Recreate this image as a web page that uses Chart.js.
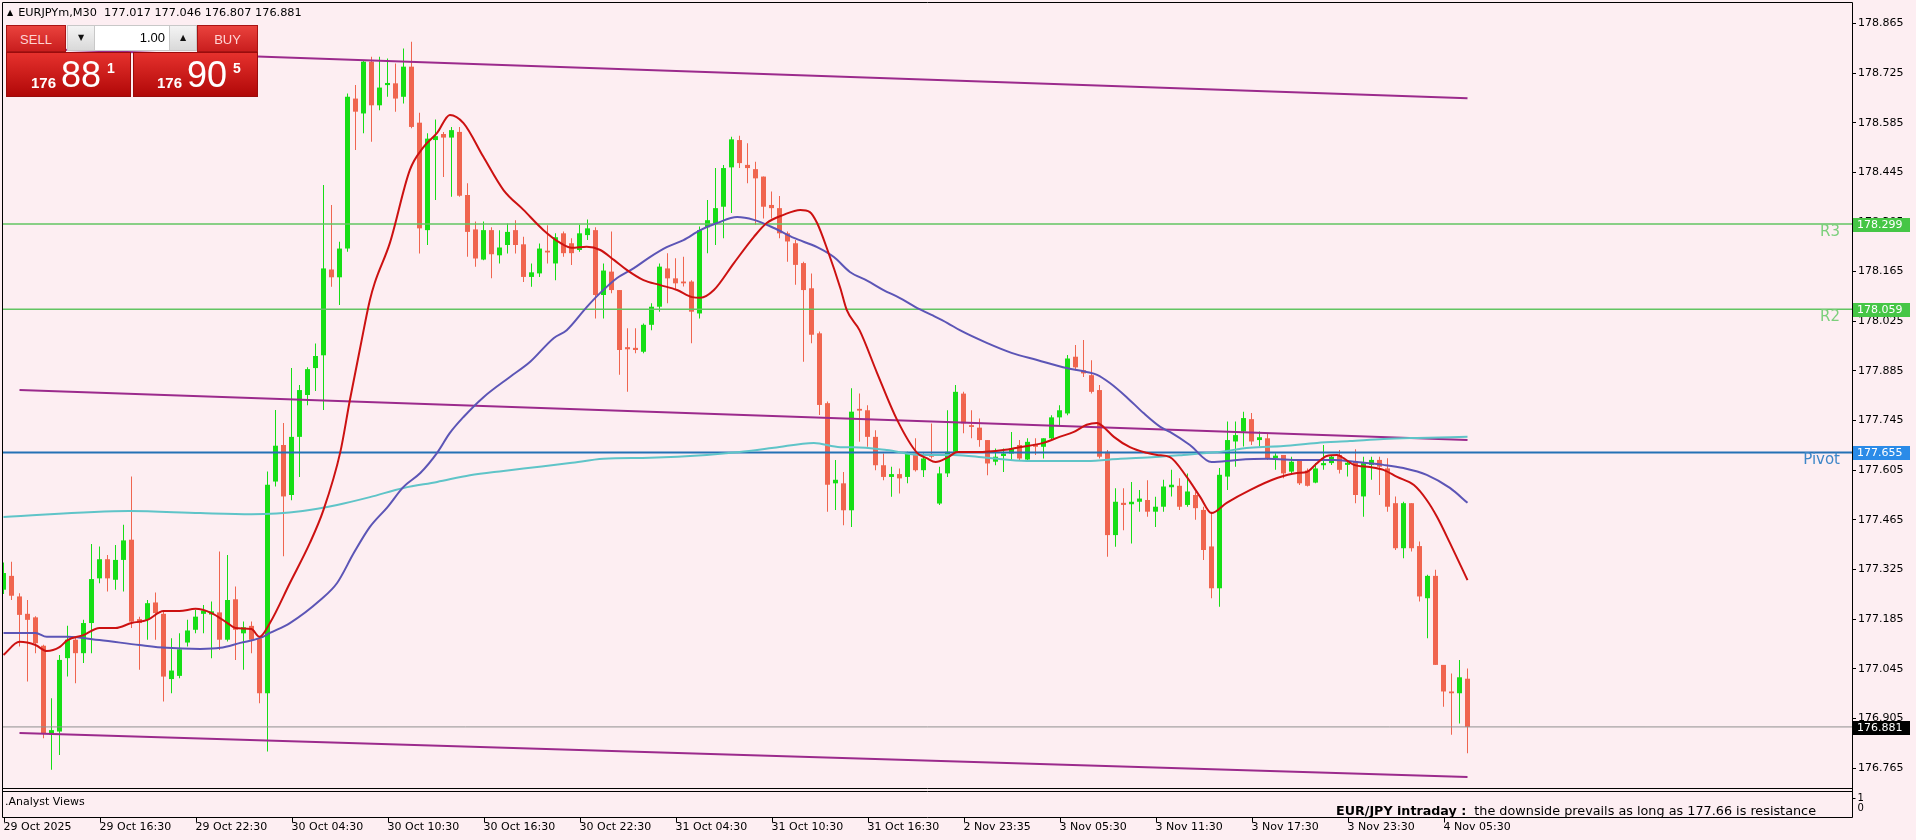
<!DOCTYPE html>
<html><head><meta charset="utf-8">
<script src="https://cdn.jsdelivr.net/npm/chart.js@4.4.1/dist/chart.umd.min.js"></script>
<style>
html,body{margin:0;padding:0;background:#fdeef2;overflow:hidden;}
#wrap{position:relative;width:1916px;height:840px;}
canvas{position:absolute;left:0;top:0;}
.abs{position:absolute;box-sizing:border-box;white-space:pre;}
#hdr{left:7px;top:6px;font:11.3px 'DejaVu Sans';color:#000;line-height:13px;}
#hdr .tri{font-size:8px;vertical-align:1px;margin-right:5px;}
.btn{top:25px;height:27px;background:linear-gradient(#ea423d,#c91e1e);color:#ffd3d3;font:13px 'Liberation Sans';text-align:center;line-height:27px;border:1px solid #a81414;}
#sellBtn{left:6px;width:60px;}
#buyBtn{left:197px;width:61px;}
#spin{left:67px;top:25px;width:130px;height:26px;background:#fff;border:1px solid #c8c8c8;}
.arr{position:absolute;top:0;width:26px;height:24px;background:linear-gradient(#f4f4f4,#d9d9d9);font:8px 'DejaVu Sans';text-align:center;line-height:24px;color:#111;}
#dn{left:0;border-right:1px solid #c8c8c8;}
#up{right:0;border-left:1px solid #c8c8c8;}
#inp{position:absolute;right:31px;top:0;font:13px 'Liberation Sans';line-height:24px;color:#000;}
.px{top:52px;height:45px;background:linear-gradient(#e5312d,#b10808);border:1px solid #9a0c0c;color:#fff;font-family:'Liberation Sans';}
#sellPx{left:6px;width:125px;}
#buyPx{left:133px;width:125px;}
.px span{position:absolute;line-height:1;}
.px .s{font-size:15px;font-weight:bold;top:22px;}
.px .b{font-size:36px;top:4px;}
.px .u{font-size:14px;font-weight:bold;top:8px;}
</style></head>
<body>
<div id="wrap">
<canvas id="c" width="1916" height="840"></canvas>
<div id="hdr" class="abs"><span class="tri">▲</span><span id="hdrText"></span></div>
<div id="sellBtn" class="abs btn">SELL</div>
<div id="spin" class="abs"><div id="dn" class="arr">▼</div><div id="inp">1.00</div><div id="up" class="arr">▲</div></div>
<div id="buyBtn" class="abs btn">BUY</div>
<div id="sellPx" class="abs px"><span class="s" style="left:24px" id="sbig0"></span><span class="b" style="left:54px" id="sbig1"></span><span class="u" style="left:100px" id="sbig2"></span></div>
<div id="buyPx" class="abs px"><span class="s" style="left:23px" id="bbig0"></span><span class="b" style="left:53px" id="bbig1"></span><span class="u" style="left:99px" id="bbig2"></span></div>
</div>
<script>
// ---------------- data ----------------
const symbol = 'EURJPYm,M30';
const bid = 176.881, ask = 176.905;
const timeLabels = ['29 Oct 2025','29 Oct 16:30','29 Oct 22:30','30 Oct 04:30','30 Oct 10:30','30 Oct 16:30','30 Oct 22:30','31 Oct 04:30','31 Oct 10:30','31 Oct 16:30','2 Nov 23:35','3 Nov 05:30','3 Nov 11:30','3 Nov 17:30','3 Nov 23:30','4 Nov 05:30'];
const barsPerLabel = 12;
const yTicks = [176.765,176.905,177.045,177.185,177.325,177.465,177.605,177.745,177.885,178.025,178.165,178.305,178.445,178.585,178.725,178.865];

const open = [177.268,177.307,177.249,177.200,177.190,177.110,176.860,176.868,177.075,177.127,177.089,177.174,177.300,177.354,177.296,177.352,177.409,177.185,177.183,177.232,177.200,177.016,177.025,177.119,177.155,177.200,177.198,177.204,177.127,177.241,177.145,177.166,177.131,176.976,177.573,177.676,177.535,177.699,177.817,177.893,177.929,178.171,178.149,178.230,178.653,178.611,178.757,178.634,178.691,178.696,178.658,178.743,178.585,178.282,178.536,178.553,178.543,178.559,178.381,178.284,178.199,178.282,178.211,178.240,178.282,178.242,178.150,178.160,178.224,178.188,178.273,178.245,178.226,178.268,178.282,178.099,178.165,178.113,177.952,177.950,177.939,178.015,178.066,178.174,178.146,178.137,178.137,178.047,178.290,178.301,178.348,178.459,178.536,178.466,178.454,178.433,178.353,178.344,178.273,178.245,178.189,178.118,177.991,177.794,177.568,177.568,177.492,177.778,177.774,177.699,177.619,177.586,177.594,177.586,177.652,177.605,177.647,177.511,177.596,177.657,177.821,177.732,177.725,177.690,177.629,177.645,177.652,177.676,177.635,177.679,177.671,177.695,177.754,177.765,177.925,177.887,177.873,177.831,177.657,177.422,177.513,177.509,177.516,177.521,177.488,177.502,177.557,177.561,177.507,177.535,177.493,177.390,177.272,177.587,177.686,177.714,177.749,177.690,177.695,177.639,177.648,177.601,177.634,177.604,177.570,177.619,177.625,177.648,177.620,177.629,177.531,177.620,177.634,177.610,177.512,177.385,177.512,177.391,177.244,177.307,177.056,176.981,176.976,177.017];
const high = [177.345,177.347,177.258,177.239,177.193,177.113,176.962,177.084,177.166,177.136,177.183,177.397,177.390,177.366,177.394,177.451,177.587,177.192,177.239,177.260,177.206,177.131,177.145,177.183,177.211,177.225,177.235,177.376,177.366,177.277,177.178,177.178,177.136,177.601,177.775,177.738,177.893,177.845,177.895,177.962,178.409,178.353,178.249,178.667,178.691,178.761,178.771,178.771,178.766,178.752,178.794,178.813,178.613,178.555,178.594,178.559,178.573,178.573,178.414,178.306,178.306,178.290,178.282,178.301,178.310,178.263,178.188,178.244,178.296,178.273,178.278,178.259,178.297,178.312,178.290,178.188,178.278,178.113,178.005,178.005,178.019,178.076,178.188,178.217,178.203,178.207,178.141,178.292,178.367,178.457,178.466,178.545,178.548,178.527,178.475,178.433,178.391,178.378,178.278,178.254,178.193,178.160,177.996,177.799,177.634,177.600,177.836,177.821,177.788,177.718,177.652,177.615,177.610,177.657,177.695,177.652,177.737,177.615,177.774,177.845,177.826,177.774,177.751,177.690,177.666,177.666,177.713,177.690,177.695,177.695,177.695,177.760,177.788,177.930,177.958,177.972,177.915,177.845,177.662,177.554,177.554,177.572,177.549,177.577,177.530,177.578,177.606,177.582,177.596,177.545,177.502,177.488,177.611,177.742,177.742,177.770,177.766,177.714,177.709,177.653,177.648,177.643,177.634,177.610,177.625,177.676,177.648,177.662,177.634,177.664,177.643,177.643,177.643,177.639,177.531,177.516,177.512,177.404,177.310,177.324,177.056,177.032,177.070,177.046];
const low = [177.256,177.239,177.108,177.009,177.089,176.849,176.760,176.802,177.023,177.004,177.061,177.089,177.286,177.263,177.268,177.263,177.160,177.042,177.127,177.127,176.953,176.976,177.018,177.108,177.145,177.145,177.075,177.098,177.122,177.070,177.042,177.089,176.948,176.812,177.559,177.362,177.520,177.586,177.788,177.828,177.775,178.122,178.071,178.221,178.508,178.555,178.531,178.620,178.658,178.616,178.639,178.569,178.216,178.240,178.367,178.432,178.376,178.376,178.207,178.179,178.197,178.146,178.188,178.216,178.216,178.136,178.122,178.150,178.188,178.141,178.207,178.184,178.221,178.254,178.033,178.033,178.104,177.874,177.826,177.935,177.935,178.000,178.052,178.076,178.113,178.123,177.963,178.033,178.217,178.240,178.259,178.330,178.457,178.414,178.297,178.315,178.315,178.259,178.193,178.128,177.911,177.963,177.761,177.488,177.493,177.450,177.445,177.685,177.671,177.605,177.577,177.530,177.539,177.568,177.601,177.586,177.638,177.507,177.586,177.654,177.709,177.695,177.671,177.591,177.619,177.600,177.633,177.633,177.632,177.648,177.638,177.690,177.732,177.760,177.887,177.868,177.821,177.638,177.361,177.389,177.436,177.398,177.488,177.474,177.445,177.488,177.531,177.493,177.502,177.465,177.352,177.244,177.220,177.549,177.615,177.672,177.676,177.672,177.634,177.606,177.582,177.596,177.563,177.559,177.568,177.606,177.620,177.596,177.587,177.512,177.474,177.578,177.535,177.488,177.380,177.357,177.376,177.235,177.131,177.056,176.938,176.859,176.891,176.807];
const close = [177.315,177.251,177.197,177.183,177.117,176.863,176.872,177.070,177.127,177.089,177.174,177.298,177.354,177.300,177.352,177.407,177.178,177.174,177.230,177.202,177.023,177.040,177.100,177.153,177.192,177.209,177.207,177.127,177.239,177.155,177.162,177.127,176.976,177.564,177.674,177.531,177.699,177.831,177.890,177.927,178.174,178.149,178.230,178.658,178.616,178.757,178.634,178.684,178.697,178.653,178.743,178.573,178.287,178.540,178.547,178.543,178.564,178.379,178.277,178.202,178.282,178.214,178.233,178.277,178.240,178.150,178.163,178.230,178.219,178.262,178.217,178.217,178.273,178.287,178.099,178.168,178.113,177.944,177.946,177.944,178.015,178.066,178.179,178.146,178.132,178.132,178.052,178.282,178.310,178.344,178.457,178.538,178.471,178.457,178.428,178.348,178.344,178.273,178.250,178.184,178.113,177.987,177.789,177.564,177.578,177.492,177.770,177.773,177.699,177.619,177.586,177.594,177.582,177.652,177.605,177.638,177.643,177.596,177.657,177.826,177.737,177.727,177.690,177.624,177.643,177.652,177.666,177.638,177.685,177.671,177.695,177.754,177.774,177.920,177.895,177.878,177.826,177.643,177.422,177.516,177.507,177.516,177.525,177.488,177.502,177.559,177.564,177.502,177.545,177.498,177.380,177.272,177.592,177.690,177.704,177.752,177.686,177.698,177.639,177.646,177.596,177.629,177.568,177.561,177.610,177.625,177.643,177.606,177.626,177.535,177.625,177.634,177.615,177.502,177.385,177.512,177.385,177.249,177.307,177.056,176.981,176.976,177.021,176.881];

const maRed = [[0,177.084],[2,177.121],[4,177.112],[5.4,177.095],[7,177.106],[8,177.126],[10,177.140],[12,177.160],[14,177.160],[16,177.174],[18,177.183],[20,177.208],[22,177.208],[24,177.214],[26,177.202],[28,177.174],[29,177.160],[31,177.157],[32,177.135],[33.3,177.174],[35.8,177.287],[38.3,177.400],[40,177.493],[42.1,177.656],[43.3,177.803],[44.6,177.952],[45.8,178.085],[46.4,178.133],[48.3,178.246],[50.8,178.452],[52.5,178.516],[54.2,178.556],[55.8,178.607],[57.5,178.584],[60,178.488],[62.5,178.395],[65,178.339],[67.5,178.282],[69.6,178.246],[71,178.232],[72.9,178.235],[74.6,178.226],[76.3,178.198],[77.9,178.170],[80,178.141],[82.1,178.127],[84.2,178.113],[86.1,178.093],[87.1,178.091],[88.8,178.113],[91.3,178.189],[93.8,178.263],[95.4,178.302],[97.5,178.325],[99.6,178.339],[100.8,178.333],[101.7,178.302],[103,178.226],[104.6,178.119],[105.4,178.057],[107,178.000],[109.2,177.879],[111.7,177.747],[114.2,177.654],[115.4,177.639],[116.5,177.628],[118.1,177.642],[119.2,177.656],[121.7,177.656],[125,177.662],[127,177.670],[130,177.682],[132,177.699],[133.8,177.713],[135.4,177.733],[136.7,177.738],[137.5,177.727],[138.8,177.699],[140.8,177.670],[142.9,177.654],[144.2,177.648],[145.8,177.642],[147.9,177.586],[149.6,177.529],[151,177.484],[152.9,177.513],[155.8,177.549],[159.2,177.583],[161.7,177.597],[162.9,177.600],[164.2,177.625],[165.4,177.645],[166.7,177.648],[167.5,177.639],[168.8,177.620],[170.8,177.614],[172.5,177.606],[174.2,177.586],[176.3,177.563],[177.9,177.521],[179.2,177.473],[180.8,177.400],[183,177.295]];
const maBlue = [[0,177.146],[4,177.146],[5.4,177.135],[8,177.135],[12,177.126],[17,177.112],[20.4,177.104],[24.6,177.101],[27.1,177.104],[29.6,177.118],[32.1,177.132],[33.3,177.146],[35.8,177.174],[39.6,177.239],[41.7,177.287],[43.8,177.372],[45.8,177.445],[48,177.501],[50,177.558],[52.1,177.597],[54.2,177.654],[55.8,177.710],[57.5,177.755],[60,177.811],[63.3,177.868],[65.8,177.910],[68.8,177.978],[70.4,178.000],[72.9,178.065],[74.6,178.105],[76.7,178.147],[78.8,178.175],[80.8,178.206],[82.9,178.234],[85,178.254],[87.1,178.282],[89.2,178.302],[91.7,178.319],[93.8,178.311],[96.3,178.288],[98.8,178.260],[101.7,178.234],[103.8,178.206],[105.8,178.164],[108,178.139],[110,178.113],[112,178.091],[114,178.065],[116,178.043],[118,178.020],[119.6,177.999],[122.9,177.964],[126,177.936],[129.2,177.916],[132.9,177.893],[135.4,177.882],[136.7,177.874],[138.3,177.851],[140.4,177.811],[142.5,177.766],[144.6,177.727],[145.8,177.713],[148.3,177.676],[151,177.628],[154.2,177.634],[158,177.637],[162.1,177.634],[166.3,177.634],[169.2,177.628],[172.5,177.620],[175,177.611],[177.9,177.592],[180.8,177.555],[183,177.513]];
const maCyan = [[0,177.473],[15.7,177.490],[24.6,177.484],[31,177.481],[37.4,177.490],[41.7,177.507],[45.8,177.529],[50,177.555],[54.2,177.572],[58.3,177.591],[62.5,177.603],[66.7,177.614],[70.8,177.625],[75,177.637],[80.8,177.640],[87.9,177.648],[92,177.656],[96.3,177.668],[101.3,177.682],[104.6,177.670],[106.3,177.670],[110.4,177.662],[114.6,177.648],[118.8,177.648],[122.9,177.640],[127.9,177.631],[135.4,177.631],[139.6,177.637],[144,177.642],[147.5,177.648],[151.7,177.656],[155.8,177.668],[160,177.673],[164.2,177.682],[168.3,177.687],[172.5,177.693],[176.7,177.696],[183,177.699]];
const channelUpper = [[2,178.795],[183,178.654]];
const channelMiddle = [[2,177.831],[183,177.690]];
const channelLower = [[2,176.864],[183,176.740]];
const levelNames = ['R3','R2','Pivot'];
const levelValues = [178.299, 178.059, 177.655];
const commentBold = 'EUR/JPY intraday :';
const commentText = 'the downside prevails as long as 177.66 is resistance';
const paneName = '.Analyst Views';

// ---------------- view constants ----------------
const BG = '#fdeef2';
const UP = '#16de16', DOWN = '#f0654f';
const X_MIN = -0.0625, X_MAX = 231.0625;
const Y_MIN = 176.7088, Y_MAX = 178.9225;
const FONT = "'DejaVu Sans'";

// header & trade panel text
const last = close.length - 1;
document.getElementById('hdrText').textContent = symbol + '  ' + [open[last], high[last], low[last], close[last]].map(v => v.toFixed(3)).join(' ');
function splitPrice(p) { const s = p.toFixed(3); return [s.slice(0, 3), s.slice(4, 6), s.slice(6)]; }
splitPrice(bid).forEach((t, k) => document.getElementById('sbig' + k).textContent = t);
splitPrice(ask).forEach((t, k) => document.getElementById('bbig' + k).textContent = t);

const idx = open.map((_, i) => i);
const candleColors = idx.map(i => close[i] >= open[i] ? UP : DOWN);

function lineDs(pts, color, width, order) {
  return { type: 'line', data: pts.map(([x, y]) => ({ x, y })), borderColor: color, borderWidth: width,
    pointRadius: 0, fill: false, cubicInterpolationMode: 'monotone', order };
}
function hLine(v, color, width) { return lineDs([[X_MIN, v], [X_MAX, v]], color, width, 5); }

const overlay = {
  id: 'overlay',
  beforeDraw(chart) {
    const c = chart.ctx; c.save(); c.fillStyle = BG; c.fillRect(0, 0, chart.width, chart.height); c.restore();
  },
  afterDraw(chart) {
    const { ctx, chartArea: a, scales: { x, y } } = chart;
    const L = a.left - 0.5, R = a.right + 0.5, T = a.top - 0.5, B = a.bottom + 0.5;
    const paneTop = B + 3, paneBot = B + 29;
    ctx.save();
    ctx.strokeStyle = '#000'; ctx.lineWidth = 1;
    ctx.beginPath();
    ctx.moveTo(L, T); ctx.lineTo(R, T);
    ctx.moveTo(L, T); ctx.lineTo(L, paneBot);
    ctx.moveTo(R, T); ctx.lineTo(R, paneBot);
    ctx.moveTo(L, B); ctx.lineTo(R, B);
    ctx.moveTo(L, paneTop); ctx.lineTo(R, paneTop);
    ctx.moveTo(L, paneBot); ctx.lineTo(R, paneBot);
    timeLabels.forEach((_, k) => {
      const px = Math.round(x.getPixelForValue(k * barsPerLabel)) + 0.5;
      ctx.moveTo(px, paneBot); ctx.lineTo(px, paneBot + 5);
    });
    ctx.moveTo(R, paneTop + 7); ctx.lineTo(R + 3, paneTop + 7);
    ctx.stroke();
    ctx.fillStyle = '#000'; ctx.font = '11px ' + FONT; ctx.textBaseline = 'middle'; ctx.textAlign = 'left';
    ctx.fillText(paneName, a.left + 2, paneTop + 11);
    ctx.font = '10px ' + FONT;
    ctx.fillText('1', R + 5, paneTop + 7);
    ctx.fillText('0', R + 5, paneTop + 17);
    // comment
    ctx.textAlign = 'right'; ctx.font = '12.8px ' + FONT;
    const tx = a.right - 36;
    ctx.fillText(commentText, tx, paneTop + 20);
    const w = ctx.measureText(commentText).width;
    ctx.font = 'bold 12.7px ' + FONT;
    ctx.fillText(commentBold, tx - w - 8, paneTop + 20);
    // level labels
    const lvlColors = ['#7ccf7c', '#7ccf7c', '#3d86c8'];
    ctx.font = '15px ' + FONT; ctx.textAlign = 'right';
    levelNames.forEach((n, k) => {
      const py = y.getPixelForValue(levelValues[k]);
      ctx.fillStyle = lvlColors[k];
      ctx.fillText(n, a.right - 12, py + 8);
    });
    // value boxes on the axis
    const boxes = [[levelValues[0], '#46c646'], [levelValues[1], '#46c646'], [levelValues[2], '#2b8be8'], [bid, '#000000']];
    ctx.font = '11px ' + FONT; ctx.textAlign = 'left';
    boxes.forEach(([v, col]) => {
      const py = Math.round(y.getPixelForValue(v));
      ctx.fillStyle = col; ctx.fillRect(a.right + 1, py - 6, 57, 14);
      ctx.fillStyle = '#fff'; ctx.fillText(v.toFixed(3), a.right + 5, py + 1);
    });
    ctx.restore();
  }
};

new Chart(document.getElementById('c'), {
  type: 'bar',
  data: {
    datasets: [
      { type: 'bar', data: idx.map(i => ({ x: i, y: [low[i], high[i]] })), backgroundColor: candleColors,
        barThickness: 1, grouped: false, inflateAmount: 0, borderWidth: 0, order: 20 },
      { type: 'bar', data: idx.map(i => ({ x: i, y: [open[i], close[i]] })), backgroundColor: candleColors,
        barThickness: 5, grouped: false, inflateAmount: 0, borderWidth: 0, minBarLength: 1, order: 19 },
      hLine(levelValues[0], '#62c462', 1.5),
      hLine(levelValues[1], '#62c462', 1.5),
      hLine(levelValues[2], '#2471b5', 2),
      hLine(bid, '#909090', 1),
      lineDs(channelUpper, '#9b2a8c', 2, 4),
      lineDs(channelMiddle, '#9b2a8c', 2, 4),
      lineDs(channelLower, '#9b2a8c', 2, 4),
      lineDs(maCyan, '#5fc4c8', 2, 3),
      lineDs(maBlue, '#5c55b6', 2, 2),
      lineDs(maRed, '#cc1111', 2, 1)
    ]
  },
  options: {
    responsive: false, animation: false, devicePixelRatio: 1,
    layout: { padding: { left: 3, top: 3, right: 0, bottom: 0 } },
    plugins: { legend: { display: false }, tooltip: { enabled: false } },
    scales: {
      x: {
        type: 'linear', min: X_MIN, max: X_MAX, offset: false,
        grid: { display: false, drawTicks: false, offset: false }, border: { display: false },
        afterBuildTicks: s => { s.ticks = timeLabels.map((_, k) => ({ value: k * barsPerLabel })); },
        ticks: { autoSkip: false, maxRotation: 0, minRotation: 0, align: 'start', padding: 33, color: '#000',
          font: { family: 'DejaVu Sans', size: 11 }, callback: v => timeLabels[Math.round(v / barsPerLabel)] },
        afterFit: s => { s.height = 52; s.paddingLeft = 0; s.paddingRight = 0; }
      },
      y: {
        type: 'linear', position: 'right', min: Y_MIN, max: Y_MAX,
        afterBuildTicks: s => { s.ticks = yTicks.map(v => ({ value: v })); },
        grid: { display: true, drawOnChartArea: false, drawTicks: true, tickLength: 4, color: '#000' },
        border: { display: false },
        ticks: { padding: 2, color: '#000', font: { family: 'DejaVu Sans', size: 11 }, callback: v => Number(v).toFixed(3) },
        afterFit: s => { s.width = 64; s.paddingTop = 0; s.paddingBottom = 0; }
      }
    }
  },
  plugins: [overlay]
});
</script>
</body></html>
